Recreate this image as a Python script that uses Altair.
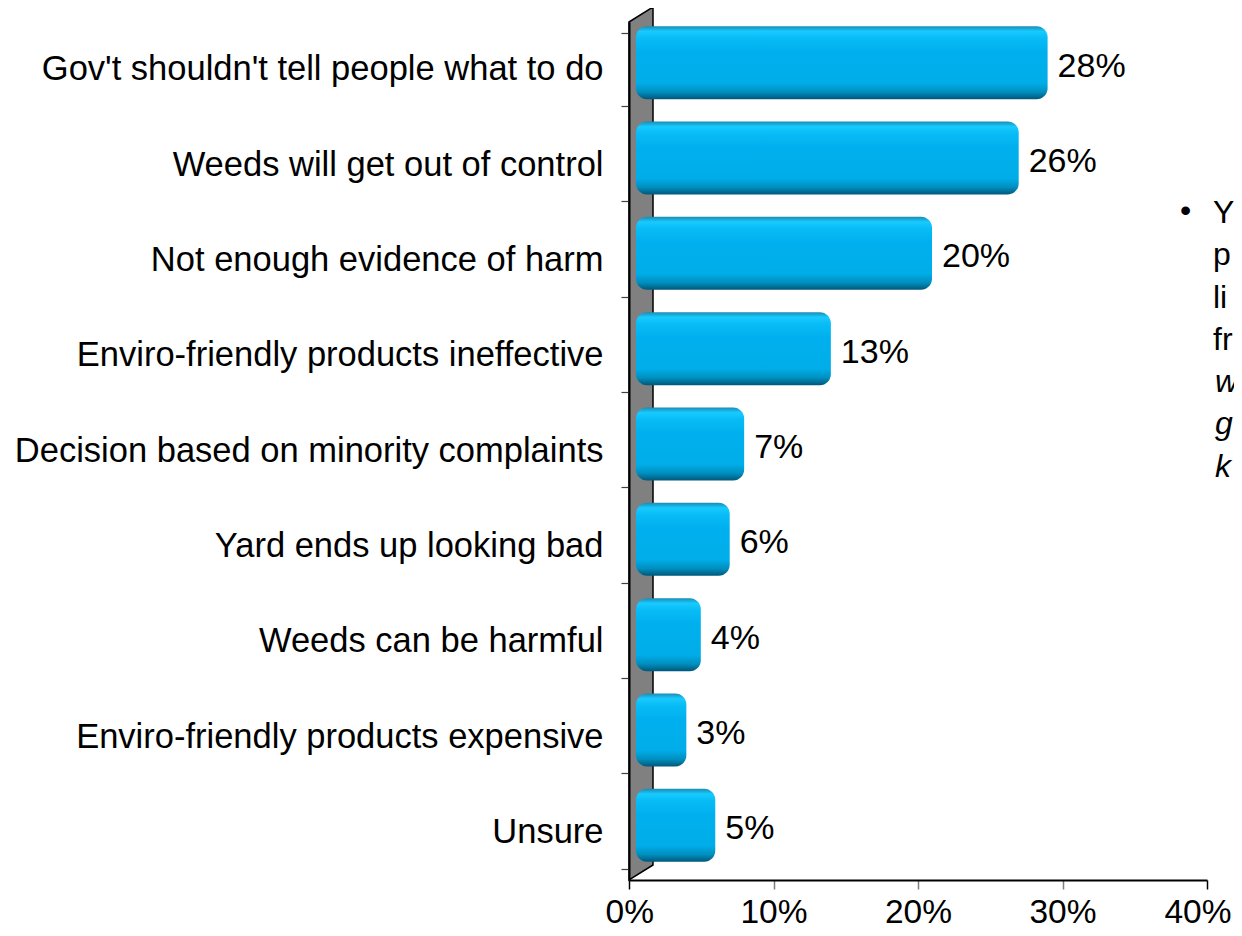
import altair as alt
import pandas as pd

categories = [
    "Gov't shouldn't tell people what to do",
    "Weeds will get out of control",
    "Not enough evidence of harm",
    "Enviro-friendly products ineffective",
    "Decision based on minority complaints",
    "Yard ends up looking bad",
    "Weeds can be harmful",
    "Enviro-friendly products expensive",
    "Unsure",
]
values = [28, 26, 20, 13, 7, 6, 4, 3, 5]
x_ticks = [0, 10, 20, 30, 40]
note_lines = ["Y", "p", "li", "fr"]
note_lines_italic = ["w", "g", "k"]

df = pd.DataFrame({"reason": categories, "pct": values,
                   "label": [f"{v}%" for v in values]})
one = pd.DataFrame({"k": [0]})

W, H = 578, 858
FONT = "Liberation Sans"

xscale = alt.Scale(domain=[0, 40])
x_axis = alt.Axis(values=x_ticks, title=None, grid=False,
                  labelFlush=True, labelFlushOffset=24,
                  labelExpr="datum.value + '%'", labelFont=FONT,
                  labelFontSize=33.5, labelColor="black", labelPadding=7,
                  tickSize=9, tickWidth=1.5,
                  tickColor=alt.condition("datum.value == 0 || datum.value == 40",
                                          alt.value("black"), alt.value("#7f7f7f")),
                  domainColor="black", domainWidth=2, zindex=1)
y_axis = alt.Axis(title=None, domainColor="black", domainWidth=2,
                  tickColor="#404040", tickSize=8, tickWidth=1.2,
                  tickBand="extent", labelFontSize=34.5, labelFont=FONT,
                  labelColor="black", labelPadding=18, labelLimit=800,
                  zindex=1)
yenc = alt.Y("reason:N", sort=categories,
             scale=alt.Scale(paddingInner=0.235, paddingOuter=0.1175),
             axis=y_axis)

# 3D side wall (decoration)
wall_df = pd.DataFrame({"x": [0, 24 / (W / 40)], "top": [0, -15],
                        "bottom": [H, H - 15]})
wall = alt.Chart(wall_df).mark_area(
    color="#808080", stroke="black", strokeWidth=1.5, strokeJoin="miter"
).encode(
    x=alt.X("x:Q", scale=xscale, axis=x_axis),
    y=alt.Y("top:Q", scale=alt.Scale(domain=[0, H], range=[0, H]), axis=None),
    y2="bottom:Q",
)

grad = alt.LinearGradient(
    gradient="linear", x1=0, x2=0, y1=0, y2=1,
    stops=[
        alt.GradientStop(color="#1b8cb4", offset=0.0),
        alt.GradientStop(color="#18caff", offset=0.07),
        alt.GradientStop(color="#08bcf6", offset=0.16),
        alt.GradientStop(color="#00b0ee", offset=0.35),
        alt.GradientStop(color="#00ade8", offset=0.78),
        alt.GradientStop(color="#008fbf", offset=0.9),
        alt.GradientStop(color="#00587a", offset=1.0),
    ],
)

bars = alt.Chart(df).mark_bar(
    color=grad, cornerRadius=11, xOffset=14, x2Offset=7,
    yOffset=-7, y2Offset=-7
).encode(
    x=alt.X("pct:Q", scale=xscale, axis=x_axis),
    x2=alt.datum(0),
    y=yenc,
)

labels = alt.Chart(df).mark_text(
    align="left", baseline="middle", dx=24, dy=-3,
    font=FONT, fontSize=34, color="black"
).encode(
    x=alt.X("pct:Q", scale=xscale),
    y=alt.Y("reason:N", sort=categories),
    text="label:N",
)

bullet = alt.Chart(one).mark_text(
    text="•", align="left", baseline="alphabetic", font=FONT,
    fontSize=32, color="black"
).encode(x=alt.value(551), y=alt.value(199))

notes = alt.Chart(one).mark_text(
    text=note_lines, align="left", baseline="alphabetic", font=FONT,
    fontSize=32, lineHeight=42.3, color="black"
).encode(x=alt.value(584), y=alt.value(201))

notes_it = alt.Chart(one).mark_text(
    text=note_lines_italic, align="left", baseline="alphabetic", font=FONT,
    fontSize=32, fontStyle="italic", lineHeight=42.3, color="black"
).encode(x=alt.value(586), y=alt.value(370))

main = alt.layer(bars, labels, bullet, notes, notes_it)

chart = alt.layer(wall, main).resolve_scale(y="independent").properties(
    width=W, height=H,
    padding={"left": 621, "top": 14, "right": 27, "bottom": 48},
    autosize=alt.AutoSizeParams(type="none"),
    background="white",
).configure_view(strokeWidth=0, stroke="transparent")

chart.save("out.html", embed_options={"renderer": "svg", "actions": False})
